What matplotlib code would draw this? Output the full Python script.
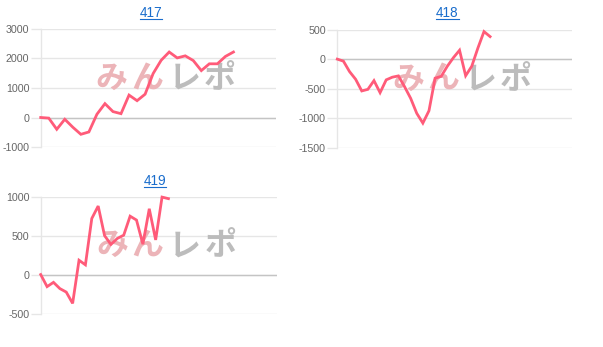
import matplotlib
matplotlib.use("Agg")
import matplotlib.pyplot as plt
from matplotlib.lines import Line2D

# ---- data ----
titles = ["417", "418", "419"]
vals_417 = [0, -20, -400, -60, -330, -570, -490, 110, 470, 200, 130, 760, 570, 790,
            1490, 1940, 2220, 2020, 2090, 1930, 1590, 1820, 1820, 2070, 2220]
vals_418 = [0, -34, -210, -340, -537, -510, -363, -566, -350, -305, -283, -464, -661,
            -915, -1080, -871, -322, -290, -120, 25, 150, -280, -120, 186, 465, 380]
vals_419 = [0, -155, -100, -180, -225, -370, 184, 125, 720, 880, 500, 387, 464, 506,
            750, 700, 390, 845, 445, 995, 975]
yticks_417 = [-1000, 0, 1000, 2000, 3000]
yticks_418 = [-1500, -1000, -500, 0, 500]
yticks_419 = [-500, 0, 500, 1000]
watermark_chars = ["み", "ん", "レ", "ポ"]

W, H = 603, 347
fig = plt.figure(figsize=(W / 100, H / 100), dpi=100)

LINE = "#ff5b79"
GRID = "#e6e6e6"
ZERO = "#c4c4c4"
TICK = "#666666"
LINK = "#1a6dcc"
FONT = ["Liberation Sans", "DejaVu Sans"]
CJK = ["Noto Sans CJK JP", "DejaVu Sans"]
WM_COLORS = ["#ecb4b8", "#ecb4b8", "#bcbcbc", "#bcbcbc"]
WM_X = [0.302, 0.452, 0.611, 0.762]

# (title, values, yticks, plot box px (l, t, r, b), xmax, title center x, title baseline y)
specs = [
    (titles[0], vals_417, yticks_417, (40.7, 29.0, 276.0, 147.0), 29.3, 151, 17),
    (titles[1], vals_418, yticks_418, (337.3, 29.5, 572.0, 148.0), 38.4, 447.5, 17),
    (titles[2], vals_419, yticks_419, (40.7, 196.7, 277.0, 313.5), 37.0, 155, 185),
]

title_texts = []
for title, vals, yt, (l, t, r, b), xmax, tx, ty in specs:
    ax = fig.add_axes([l / W, 1 - b / H, (r - l) / W, (b - t) / H])
    ax.set_facecolor("none")
    xs = list(range(len(vals)))
    ax.set_xlim(0, xmax)
    ax.set_ylim(min(yt), max(yt))
    ax.set_yticks(yt)
    ax.set_yticklabels([str(v) for v in yt], fontsize=7.7, color=TICK, family=FONT)
    ax.set_xticks([])
    ax.tick_params(axis="y", length=7.2, width=1, color=GRID, pad=1)
    for s in ["top", "right", "bottom"]:
        ax.spines[s].set_visible(False)
    ax.spines["left"].set_color(GRID)
    ax.spines["left"].set_linewidth(1)
    ax.grid(axis="y", color=GRID, linewidth=1)
    ax.set_axisbelow(True)
    ax.axhline(0, color=ZERO, linewidth=1, zorder=1)
    # watermark
    for ch, col, fx in zip(watermark_chars, WM_COLORS, WM_X):
        ax.text(fx, 0.575, ch, transform=ax.transAxes, ha="center", va="center",
                fontsize=23, fontweight="bold", color=col, family=CJK, zorder=1.5)
    ax.plot(xs, vals, color=LINE, linewidth=2.0, solid_joinstyle="miter", zorder=3,
            clip_on=False)
    tt = fig.text(tx / W, 1 - ty / H, title, ha="center", va="baseline",
                  fontsize=9.8, color=LINK, family=FONT)
    title_texts.append((tt, ty))

fig.canvas.draw()
for tt, ty in title_texts:
    bb = tt.get_window_extent()
    yline = 1 - (ty + 1.5) / H
    fig.add_artist(Line2D([bb.x0 / W, bb.x1 / W], [yline, yline],
                          transform=fig.transFigure, color=LINK, linewidth=0.8))

fig.savefig("out.png", dpi=100)
